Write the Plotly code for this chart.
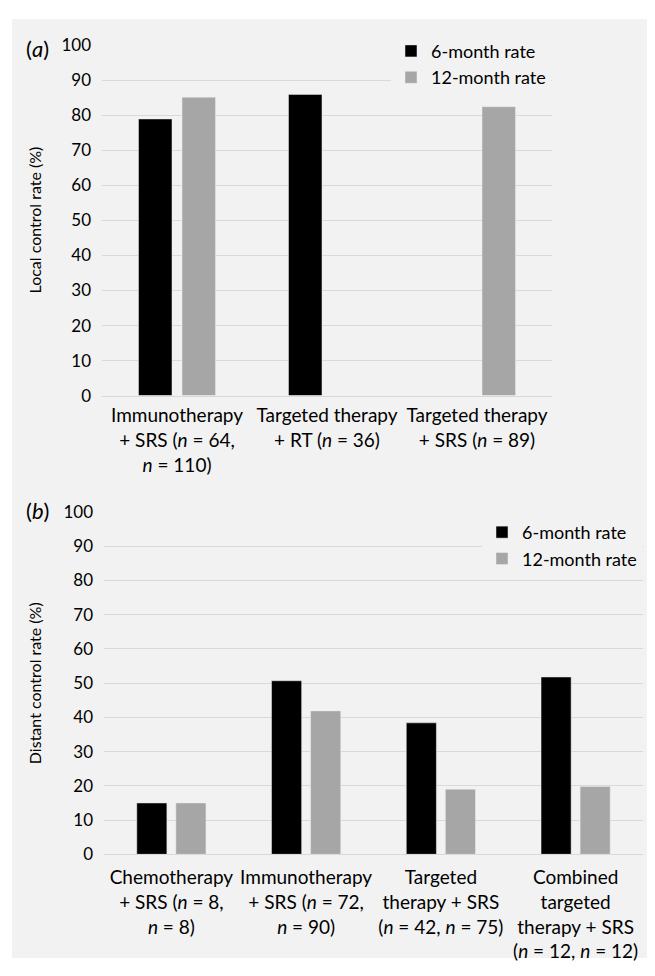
import plotly.graph_objects as go

# ---- data ----
cats_a = [
    "Immunotherapy<br>+ SRS (<i>n</i> = 64,<br><i>n</i> = 110)",
    "Targeted therapy<br>+ RT (<i>n</i> = 36)",
    "Targeted therapy<br>+ SRS (<i>n</i> = 89)",
]
six_a = [79.0, 86.0, None]
twelve_a = [85.2, None, 82.5]

cats_b = [
    "Chemotherapy<br>+ SRS (<i>n</i> = 8,<br><i>n</i> = 8)",
    "Immunotherapy<br>+ SRS (<i>n</i> = 72,<br><i>n</i> = 90)",
    "Targeted<br>therapy + SRS<br>(<i>n</i> = 42, <i>n</i> = 75)",
    "Combined<br>targeted<br>therapy + SRS<br>(<i>n</i> = 12, <i>n</i> = 12)",
]
six_b = [15.0, 50.7, 38.4, 51.8]
twelve_b = [15.0, 41.9, 19.0, 19.8]

series_names = ["6-month rate", "12-month rate"]
yticks = list(range(0, 101, 10))

# page has an 8px body margin; figure spans 639x960 inside a 655x976 window
OFF = 8
W, H = 639, 960
FONT = "Lato"
BLACK = "#000000"
GREY = "#a6a6a6"
BG = "#f2f2f2"
GRID = "#d9d9d9"

def px_x(v):  # v given in page pixels
    return (v - OFF) / W

def px_y(v):
    return 1 - (v - OFF) / H

fig = go.Figure()
fig.add_trace(go.Bar(x=cats_a, y=six_a, name=series_names[0], marker_color=BLACK,
                     xaxis="x", yaxis="y", legend="legend"))
fig.add_trace(go.Bar(x=cats_a, y=twelve_a, name=series_names[1], marker_color=GREY,
                     xaxis="x", yaxis="y", legend="legend"))
fig.add_trace(go.Bar(x=cats_b, y=six_b, name=series_names[0], marker_color=BLACK,
                     xaxis="x2", yaxis="y2", legend="legend2"))
fig.add_trace(go.Bar(x=cats_b, y=twelve_b, name=series_names[1], marker_color=GREY,
                     xaxis="x2", yaxis="y2", legend="legend2"))

yax = dict(range=[0, 100], tickvals=yticks, showgrid=True, gridcolor=GRID, gridwidth=1,
           zeroline=False, showline=False, ticks="", ticklabelstandoff=10,
           tickfont=dict(family=FONT, size=17, color="#000"), fixedrange=True)
xax = dict(showgrid=False, zeroline=False, showline=True, linecolor=GRID, linewidth=1,
           ticks="", tickfont=dict(family=FONT, size=19, color="#000"), tickangle=0)

fig.update_layout(
    width=W, height=H,
    margin=dict(l=0, r=0, t=0, b=0),
    paper_bgcolor="white",
    plot_bgcolor="rgba(0,0,0,0)",
    barmode="group",
    bargap=0.42,
    bargroupgap=0.23,
    font=dict(family=FONT, color="#000"),
    xaxis=dict(**xax, domain=[px_x(102), px_x(552)], anchor="y", ticklabelstandoff=3),
    yaxis=dict(**yax, domain=[px_y(393), px_y(35)], anchor="x"),
    xaxis2=dict(**xax, domain=[px_x(104), px_x(643)], anchor="y2", ticklabelstandoff=6),
    yaxis2=dict(**yax, domain=[px_y(862), px_y(512)], anchor="x2"),
    legend=dict(x=px_x(391), y=px_y(22), xanchor="left", yanchor="top",
                bgcolor=BG, font=dict(family=FONT, size=18), tracegroupgap=0,
                itemwidth=30),
    legend2=dict(x=px_x(482), y=px_y(514), xanchor="left", yanchor="top",
                 bgcolor=BG, font=dict(family=FONT, size=18), tracegroupgap=0,
                 itemwidth=30),
    shapes=[dict(type="rect", xref="paper", yref="paper", x0=px_x(12), x1=1,
                 y0=0, y1=px_y(8), fillcolor=BG, line=dict(width=0), layer="below")],
    annotations=[
        dict(text="(<i>a</i>)", x=px_x(37), y=px_y(38), xref="paper", yref="paper",
             xanchor="center", yanchor="middle", showarrow=False,
             font=dict(family=FONT, size=22)),
        dict(text="(<i>b</i>)", x=px_x(37), y=px_y(511), xref="paper", yref="paper",
             xanchor="center", yanchor="middle", showarrow=False,
             font=dict(family=FONT, size=22)),
        dict(text="Local control rate (%)", x=px_x(34), y=px_y(214), xref="paper",
             yref="paper", textangle=-90, xanchor="center", yanchor="middle",
             showarrow=False, font=dict(family=FONT, size=16)),
        dict(text="Distant control rate (%)", x=px_x(34), y=px_y(687), xref="paper",
             yref="paper", textangle=-90, xanchor="center", yanchor="middle",
             showarrow=False, font=dict(family=FONT, size=16)),
    ],
)

fig.write_html("out.html")
